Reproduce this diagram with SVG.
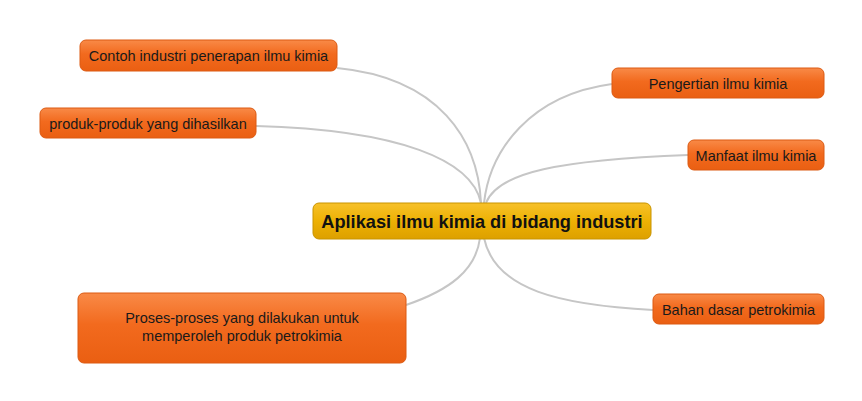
<svg xmlns="http://www.w3.org/2000/svg" width="862" height="401" viewBox="0 0 862 401">
<defs>
<linearGradient id="og" x1="0" y1="0" x2="0" y2="1">
<stop offset="0" stop-color="#F98A47"/>
<stop offset="0.45" stop-color="#F26A1E"/>
<stop offset="1" stop-color="#EA5F12"/>
</linearGradient>
<linearGradient id="yg" x1="0" y1="0" x2="0" y2="1">
<stop offset="0" stop-color="#F7C12A"/>
<stop offset="0.5" stop-color="#EDB104"/>
<stop offset="1" stop-color="#DDA000"/>
</linearGradient>
</defs>
<style>
.n{fill:url(#og);stroke:#DC5A12;stroke-width:1}
.c{fill:url(#yg);stroke:#C99400;stroke-width:1}
.t{font-family:"Liberation Sans",Arial,sans-serif;font-size:14.5px;fill:#1a1a1a;text-anchor:middle}
.ct{font-family:"Liberation Sans",Arial,sans-serif;font-size:18.2px;font-weight:bold;fill:#111;text-anchor:middle}
.e{fill:none;stroke:#C6C6C6;stroke-width:2}
</style>
<rect width="862" height="401" fill="#fff"/>
<g id="connectors">
<path class="e" d="M337,68 C440,78 478,140 481,203"/>
<path class="e" d="M256,126 C400,130 472,160 481,203"/>
<path class="e" d="M612,84 C530,95 490,150 484,203"/>
<path class="e" d="M688,155 C560,160 498,172 486,203"/>
<path class="e" d="M406,305 C450,290 476,270 480,238"/>
<path class="e" d="M653,310 C560,305 495,290 484,238"/>
</g>
<g id="center">
<rect class="c" x="313" y="203" width="338" height="36" rx="6"/>
<text class="ct" x="482" y="227.5">Aplikasi ilmu kimia di bidang industri</text>
</g>
<g id="contoh">
<rect class="n" x="80" y="40" width="257" height="31" rx="6"/>
<text class="t" x="208.5" y="61">Contoh industri penerapan ilmu kimia</text>
</g>
<g id="produk">
<rect class="n" x="40" y="108" width="216" height="30" rx="6"/>
<text class="t" x="148" y="128.5">produk-produk yang dihasilkan</text>
</g>
<g id="pengertian">
<rect class="n" x="612" y="68" width="212" height="30" rx="6"/>
<text class="t" x="718" y="88.5">Pengertian ilmu kimia</text>
</g>
<g id="manfaat">
<rect class="n" x="688" y="140" width="136" height="30" rx="6"/>
<text class="t" x="756" y="160.5">Manfaat ilmu kimia</text>
</g>
<g id="proses">
<rect class="n" x="78" y="293" width="328" height="70" rx="6"/>
<text class="t" x="242" y="323">Proses-proses yang dilakukan untuk</text>
<text class="t" x="242" y="341">memperoleh produk petrokimia</text>
</g>
<g id="bahan">
<rect class="n" x="653" y="294" width="171" height="30" rx="6"/>
<text class="t" x="738.5" y="314.5">Bahan dasar petrokimia</text>
</g>
</svg>
